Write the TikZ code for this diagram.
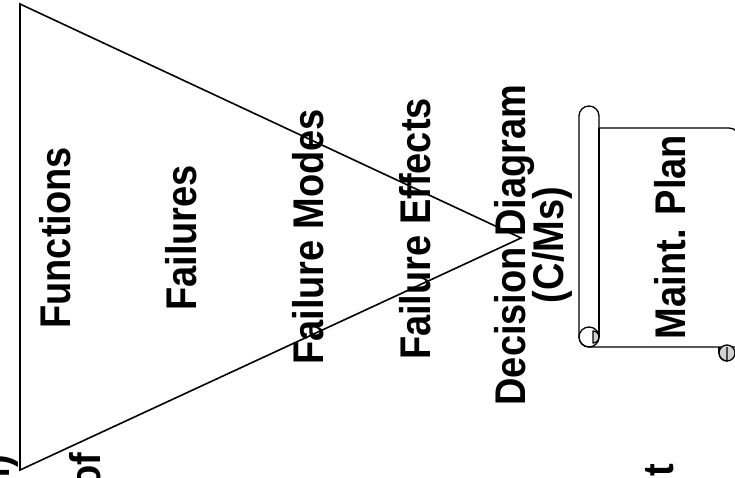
\documentclass[tikz,border=0pt]{standalone}
\usepackage{fontspec}
\setmainfont{Liberation Sans}
\begin{document}
\begin{tikzpicture}[x=1pt,y=1pt,
  label/.style={rotate=90,yscale=1.13,anchor=base,font=\fontsize{38}{40}\selectfont\bfseries,inner sep=0pt},
  edgeline/.style={line width=1.6pt,line join=miter},
  scrolline/.style={line width=1.3pt,line join=round}]
\useasboundingbox (0,0) rectangle (735,477);
\clip (0,0) rectangle (735,477);

% funnel triangle
\coordinate (tl) at (20,473);
\coordinate (bl) at (20,7);
\coordinate (apex) at (521,239);
\draw[edgeline] (tl) -- (apex) -- (bl) -- cycle;

% stage labels
\node[label] (fun) at (70,239) {Functions};
\node[label] (fail) at (196,239) {Failures};
\node[label] (modes) at (323,240) {Failure Modes};
\node[label] (eff) at (430,248) {Failure Effects};
\node[label] (dec) at (525,232) {Decision Diagram};
\node[label] (cms) at (563,232) {(C/Ms)};

% scroll with maintenance plan
\draw[scrolline,fill=white] (579,361) arc[start angle=180,end angle=0,radius=10]
  -- (599,349) -- (729,349) arc[start angle=90,end angle=0,radius=10]
  -- (739,130) -- (589,130) arc[start angle=270,end angle=180,radius=10] -- cycle;
\draw[scrolline] (599,349) -- (599,140);
\draw[scrolline] (589,140) circle[radius=10];
\filldraw[scrolline,fill=gray!35] (593,146) arc[start angle=90,end angle=-90,radius=6] -- cycle;
\draw[scrolline] (719,130) -- (719,124);
\filldraw[scrolline,fill=gray!35] (727,124) circle[radius=8];
\draw[scrolline] (719,124) arc[start angle=180,end angle=270,radius=8] -- (727,124) -- (727,130);
\node[label] (plan) at (685,240) {Maint. Plan};

% text running off the lower edge
\node[label,anchor=base east] (rcm) at (9,22) {M)};
\node[label,anchor=base west] (of) at (100,-12) {of};
\node[label,anchor=base east] (nt) at (673,13) {nt};
\end{tikzpicture}
\end{document}
